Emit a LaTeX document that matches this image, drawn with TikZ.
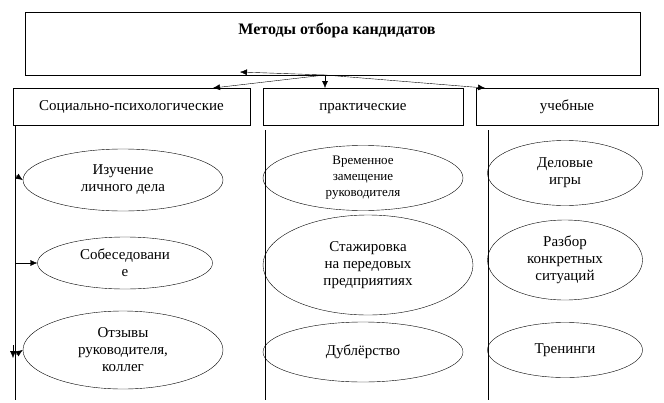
\documentclass[tikz,border=0pt]{standalone}
\usepackage{fontspec}
\setmainfont{Liberation Serif}
\usetikzlibrary{shapes.geometric,arrows.meta,positioning,calc}
\tikzstyle{group} = [draw, shape=rectangle, minimum height=37pt, text height=10pt, text depth=3pt, font=\fontsize{15}{17}\selectfont]
\tikzstyle{method} = [draw, shape=ellipse, align=center, inner sep=0pt, font=\fontsize{15}{17}\selectfont]
\tikzstyle{Arrow} = [-{Latex[length=7pt,width=6pt]}, thin]
\begin{document}
\begin{tikzpicture}[x=1pt,y=-1pt]
            \useasboundingbox (0,0) rectangle (664,402);
            \node (T) [draw, minimum width=615pt, minimum height=63pt, anchor=north west] at (25,12) {};
            \node at (337,30) {\bfseries\fontsize{16}{18}\selectfont Методы отбора кандидатов};
            %%%%% Groups %%%%%
            \node (A) [group, minimum width=237pt] at (131.5,106.5) {Социально-психологические};
            \node (B) [group, minimum width=200pt] at (363,106.5) {практические};
            \node (C) [group, minimum width=182pt] at (567,106.5) {учебные};
            \coordinate (S) at (325,75);
            \coordinate (S1) at (240,72);
            \draw [Arrow] (S) -- (S1);
            \draw [Arrow] (S) -- (213,88);
            \draw [Arrow] (S) -- (325,88);
            \draw [Arrow] (S) -- (485,88);
            %%%%% Lines %%%%%
            \draw (15,125) -- (15,400);
            \draw (265,130) -- (265,400);
            \draw (488,130) -- (488,400);
            %%%%% First column %%%%%
            \node (A1) [method, minimum width=200pt, minimum height=62pt] at (123,180) {Изучение\\личного дела};
            \node (A2) [method, minimum width=175pt, minimum height=52pt] at (125,263) {Собеседовани\\е};
            \node (A3) [method, minimum width=200pt, minimum height=78pt] at (123,350) {Отзывы\\руководителя,\\коллег};
            \draw [Arrow] (15,175) -- (A1.west);
            \draw [Arrow] (15,263) -- (A2.west);
            \draw [Arrow] (15,355) -- (A3.west);
            \draw [Arrow] (13,345) -- (13,358);
            %%%%% Second column %%%%%
            \node (B1) [method, minimum width=200pt, minimum height=65pt, font=\fontsize{13}{16}\selectfont] at (363,178) {Временное\\замещение\\руководителя};
            \node (B2) [method, minimum width=210pt, minimum height=100pt] at (368,265) {Стажировка\\на передовых\\предприятиях};
            \node (B3) [method, minimum width=200pt, minimum height=60pt] at (363,352) {Дублёрство};
            %%%%% Third column %%%%%
            \node (C1) [method, minimum width=155pt, minimum height=65pt] at (565,173) {Деловые\\игры};
            \node (C2) [method, minimum width=155pt, minimum height=80pt] at (565,260) {Разбор\\конкретных\\ситуаций};
            \node (C3) [method, minimum width=155pt, minimum height=55pt] at (565,350) {Тренинги};
        \end{tikzpicture}
\end{document}
